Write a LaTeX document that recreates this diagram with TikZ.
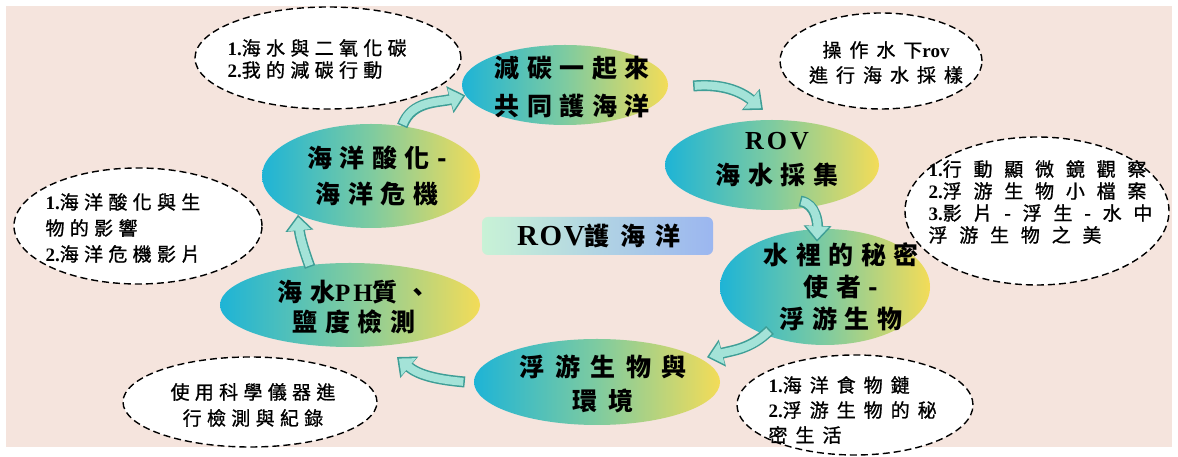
\documentclass[tikz,border=0pt]{standalone}
\usepackage{fontspec}
\usetikzlibrary{shapes.geometric,arrows.meta,calc}
\setmainfont{Liberation Serif}
\newfontfamily\cjkbig[LetterSpace=30]{Noto Sans CJK TC}
\newfontfamily\cjktitle[LetterSpace=42]{Noto Sans CJK TC}
\newfontfamily\cjksmall[LetterSpace=28,FakeBold=1]{Noto Sans CJK TC}
\newfontfamily\cjkmid[LetterSpace=42,FakeBold=1]{Noto Sans CJK TC}
\newfontfamily\cjkwide[LetterSpace=62,FakeBold=1]{Noto Sans CJK TC}
\newfontfamily\latbig[LetterSpace=12]{Liberation Serif}
\newfontfamily\lattitle[LetterSpace=6]{Liberation Serif}
\newfontfamily\latsmall{Liberation Serif}
\definecolor{bgc}{HTML}{F5E4DD}
\definecolor{gcyan}{HTML}{1EB4D6}
\definecolor{ggreen}{HTML}{7ECBA0}
\definecolor{gyellow}{HTML}{F3DC58}
\definecolor{arrlt}{HTML}{A4E3D8}
\definecolor{arrdk}{HTML}{3E9E96}
\definecolor{tleft}{HTML}{C8F2D6}
\definecolor{tright}{HTML}{9BB6F0}
\tikzset{
  bub/.style={ellipse, inner sep=0pt, left color=gcyan, right color=gyellow, middle color=ggreen, draw=none},
  note/.style={ellipse, inner sep=0pt, fill=white, draw=black, line width=1.4pt, dash pattern=on 7pt off 4pt},
  bigtxt/.style={align=center, text=black},
  smalltxt/.style={text=black},
  arrout/.style={line width=11pt, draw=arrdk, -{Triangle[width=27pt,length=16pt]}},
  arrin/.style={line width=8pt, draw=arrlt, -{Triangle[width=22pt,length=13pt]}, shorten >=2.4pt, shorten <=1.5pt},
}
\newcommand\numl[1]{{\latsmall\bfseries #1}}
\begin{document}
\begin{tikzpicture}[x=1pt,y=1pt]
\useasboundingbox (0,0) rectangle (1178,457);
\fill[white] (0,0) rectangle (1178,457);
\fill[bgc] (6,10) rectangle (1172,451);

% dashed notes
\node[note, minimum width=266pt, minimum height=102pt] (d1) at (328,399) {};
\node[note, minimum width=202pt, minimum height=96pt] (d2) at (881,396) {};
\node[note, minimum width=264pt, minimum height=148pt] (d3) at (1037,246) {};
\node[note, minimum width=248pt, minimum height=116pt] (d4) at (138,231) {};
\node[note, minimum width=254pt, minimum height=90pt] (d5) at (250,55) {};
\node[note, minimum width=236pt, minimum height=100pt] (d6) at (855,52) {};

\node[smalltxt, align=left, anchor=west, font=\fontsize{19}{22}\cjksmall] (n1) at (224,398) {\numl{1.}海水與二氧化碳\\\numl{2.}我的減碳行動};
\node[smalltxt, align=center, font=\fontsize{19}{25}\cjkmid] (n2) at (886,394.5) {操作水下{\latsmall\bfseries rov}\\進行海水採樣};
\node[smalltxt, align=left, anchor=west, font=\fontsize{19}{22}\cjkwide] (n3) at (925,255) {\numl{1.}行動顯微鏡觀察\\\numl{2.}浮游生物小檔案\\\numl{3.}影片-浮生-水中\\浮游生物之美};
\node[smalltxt, align=left, anchor=west, font=\fontsize{19}{26}\cjksmall] (n4) at (42,229) {\numl{1.}海洋酸化與生\\物的影響\\\numl{2.}海洋危機影片};
\node[smalltxt, align=center, font=\fontsize{19}{26}\cjksmall] (n5) at (253,52) {使用科學儀器進\\行檢測與紀錄};
\node[smalltxt, align=left, anchor=west, font=\fontsize{19}{25}\cjkmid] (n6) at (765,47) {\numl{1.}海洋食物鏈\\\numl{2.}浮游生物的秘\\密生活};

% title
\node[rounded corners=6pt, left color=tleft, right color=tright, minimum width=231pt, minimum height=38pt] (title) at (597.5,221) {};
\node[font=\fontsize{25}{28}\cjktitle\bfseries] (titletxt) at (599,221) {{\fontsize{29}{28}\lattitle\bfseries ROV}護海洋};

% main ellipses
\node[bub, minimum width=206pt, minimum height=80pt] (e1) at (565,372) {};
\node[bub, minimum width=214pt, minimum height=90pt] (e2) at (772,292) {};
\node[bub, minimum width=210pt, minimum height=116pt] (e3) at (825,170) {};
\node[bub, minimum width=246pt, minimum height=86pt] (e4) at (597,75) {};
\node[bub, minimum width=260pt, minimum height=84pt] (e5) at (350,152) {};
\node[bub, minimum width=218pt, minimum height=104pt] (e6) at (371,281) {};

\node[bigtxt, font=\fontsize{25}{38}\cjkbig\bfseries] (t1) at (572,369.5) {減碳一起來\\共同護海洋};
\node[bigtxt, font=\fontsize{25}{35}\cjkbig\bfseries] (t2) at (777,297) {{\fontsize{26}{35}\latbig\bfseries ROV}\\海水採集};
\node[bigtxt, font=\fontsize{25}{32}\cjkbig\bfseries] (t3) at (841,170) {水裡的秘密\\使者-\\浮游生物};
\node[bigtxt, font=\fontsize{25}{34}\cjktitle\bfseries] (t4) at (603,73.5) {浮游生物與\\環境};
\node[bigtxt, font=\fontsize{25}{30}\cjkbig\bfseries] (t5) at (354,149.5) {海水{\latbig\bfseries PH}質、\\鹽度檢測};
\node[bigtxt, font=\fontsize{25}{36}\cjkbig\bfseries] (t6) at (377,281) {海洋酸化-\\海洋危機};

% arrows
\draw[arrout] (e6.58) to[out=70,in=195] (e1.186);
\draw[arrin]  (e6.58) to[out=70,in=195] (e1.186);
\draw[arrout] ($(e1.east)+(25,-1)$) to[out=5,in=140] ($(e2.north)+(-9,10)$);
\draw[arrin]  ($(e1.east)+(25,-1)$) to[out=5,in=140] ($(e2.north)+(-9,10)$);
\draw[arrout] ($(e2.center)+(28,-36)$) to[out=-10,in=88] ($(e3.north)+(-8,-13)$);
\draw[arrin]  ($(e2.center)+(28,-36)$) to[out=-10,in=88] ($(e3.north)+(-8,-13)$);
\draw[arrout] ($(e3.center)+(-55,-43)$) to[out=225,in=15] ($(e4.13)+(7,1)$);
\draw[arrin]  ($(e3.center)+(-55,-43)$) to[out=225,in=15] ($(e4.13)+(7,1)$);
\draw[arrout] ($(e4.west)+(-9,0)$) to[out=175,in=-40] ($(e5.center)+(47,-52)$);
\draw[arrin]  ($(e4.west)+(-9,0)$) to[out=175,in=-40] ($(e5.center)+(47,-52)$);
\draw[arrout] ($(e5.center)+(-40,38)$) to[out=110,in=-85] (e6.208);
\draw[arrin]  ($(e5.center)+(-40,38)$) to[out=110,in=-85] (e6.208);
\end{tikzpicture}
\end{document}
